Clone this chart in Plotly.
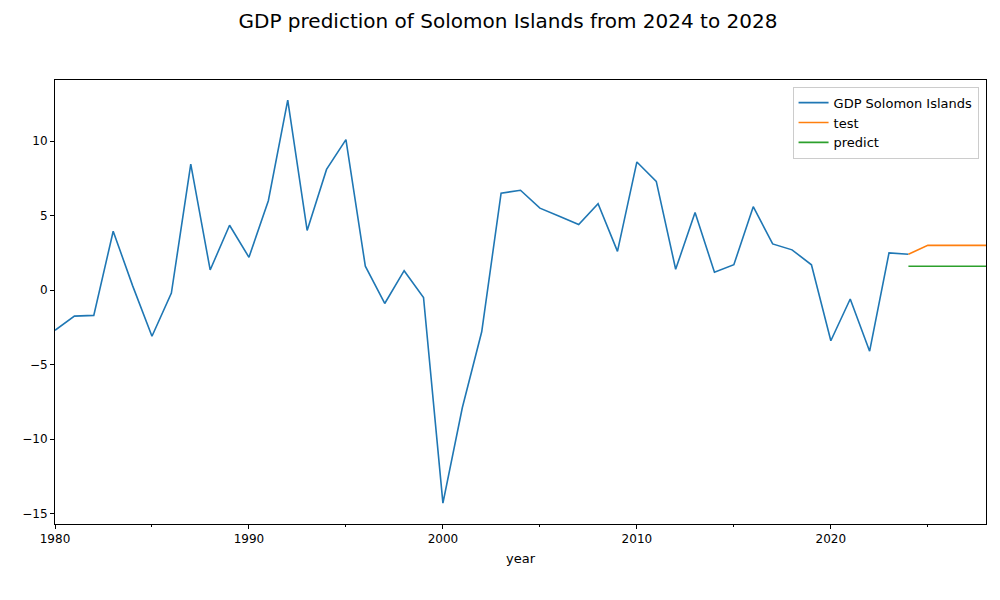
import plotly.graph_objects as go

years = list(range(1980, 2025))
gdp = [-2.7, -1.75, -1.7, 3.95, 0.3, -3.1, -0.2, 8.45, 1.35, 4.35,
       2.2, 6.0, 12.75, 4.0, 8.1, 10.1, 1.6, -0.9, 1.3, -0.5,
       -14.3, -7.9, -2.8, 6.5, 6.7, 5.5, 4.95, 4.4, 5.8, 2.6,
       8.6, 7.3, 1.4, 5.2, 1.2, 1.7, 5.6, 3.1, 2.7, 1.7,
       -3.4, -0.6, -4.1, 2.5, 2.4]
future_years = [2024, 2025, 2026, 2027, 2028]
test = [2.4, 3.0, 3.0, 3.0, 3.0]
predict = [1.6, 1.6, 1.6, 1.6, 1.6]

fig = go.Figure()
fig.add_trace(go.Scatter(x=years, y=gdp, mode='lines', name='GDP Solomon Islands',
                         line=dict(color='#1f77b4', width=1.6)))
fig.add_trace(go.Scatter(x=future_years, y=test, mode='lines', name='test',
                         line=dict(color='#ff7f0e', width=1.6)))
fig.add_trace(go.Scatter(x=future_years, y=predict, mode='lines', name='predict',
                         line=dict(color='#2ca02c', width=1.6)))

axis_common = dict(showgrid=False, zeroline=False, showline=True, mirror=True,
                   linecolor='black', linewidth=1, ticks='outside', ticklen=4,
                   tickcolor='black', tickfont=dict(size=12, color='black'))

fig.update_layout(
    width=1000, height=600,
    paper_bgcolor='white', plot_bgcolor='white',
    font=dict(family='DejaVu Sans', color='black'),
    margin=dict(l=47, r=22, t=72, b=84),
    title=dict(text='GDP prediction of Solomon Islands from 2024 to 2028',
               font=dict(size=20), x=0.5, xanchor='center', y=0.978, yanchor='middle'),
    xaxis=dict(range=[1980, 2028], tickvals=[1980, 1990, 2000, 2010, 2020],
               minor=dict(tickvals=[1985, 1995, 2005, 2015, 2025], ticks='outside',
                          ticklen=2, tickcolor='black'),
               title=dict(text='year', font=dict(size=13), standoff=8), **axis_common),
    yaxis=dict(range=[-15.7, 14.1], tickvals=[-15, -10, -5, 0, 5, 10], **axis_common),
    legend=dict(x=0.992, y=0.985, xanchor='right', yanchor='top',
                bgcolor='rgba(255,255,255,0.8)', bordercolor='#cccccc', borderwidth=1,
                font=dict(size=13)),
)

fig.write_html("out.html")
